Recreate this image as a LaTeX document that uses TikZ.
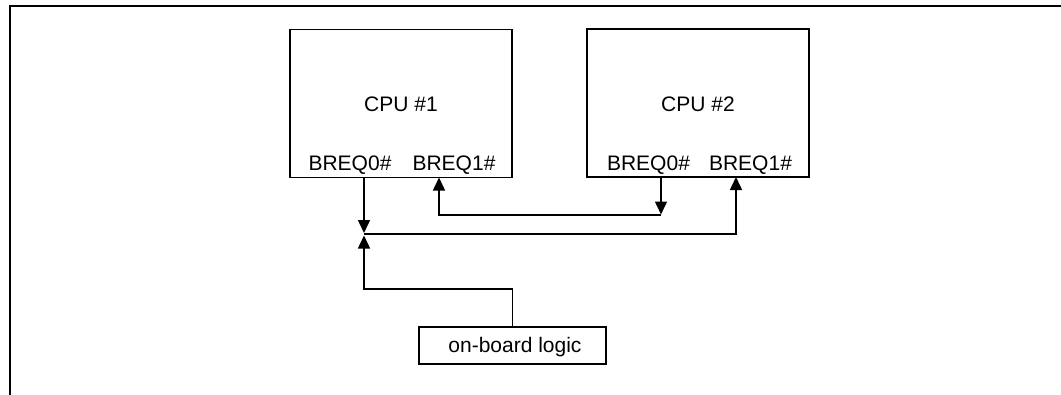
\documentclass[tikz,border=0pt]{standalone}
\usepackage{fontspec}
\setmainfont{Liberation Sans}
\usetikzlibrary{arrows.meta}
\begin{document}
\begin{tikzpicture}[x=1pt,y=-1pt,
  box/.style={draw=black,line width=1.5pt,inner sep=0pt,outer sep=0pt,rectangle},
  lbl/.style={inner sep=0pt,anchor=base,font=\fontsize{21}{25}\selectfont},
  arr/.style={line width=1.5pt,-{Triangle[length=13pt,width=12pt]}},
  frame/.style={line width=2.6pt,line cap=rect}]
\useasboundingbox (0,0) rectangle (1061,394);
% outer frame (top and left edges only)
\draw[frame] (10,394) -- (10,6) -- (1061,6);
% CPU boxes
\node[box,minimum width=222pt,minimum height=148pt] (cpu1) at (401,103.5) {};
\node[box,minimum width=222pt,minimum height=148pt] (cpu2) at (698,103) {};
\node[lbl,anchor=center] (t1) at (401,104) {CPU \#1};
\node[lbl,anchor=center] (t2) at (698,104) {CPU \#2};
\node[lbl] (b10) at (350,170) {BREQ0\#};
\node[lbl] (b11) at (454,170) {BREQ1\#};
\node[lbl] (b20) at (648.5,170) {BREQ0\#};
\node[lbl] (b21) at (750.5,170) {BREQ1\#};
% on-board logic
\node[box,minimum width=187pt,minimum height=37pt] (logic) at (512.5,345.5) {};
\node[lbl] (tl) at (515,352) {on-board logic};
% pins
\path (cpu1.south west) ++(74,0) coordinate (c1b0);
\path (cpu1.south west) ++(149,0) coordinate (c1b1);
\path (cpu2.south west) ++(74,0) coordinate (c2b0);
\path (cpu2.south west) ++(149,0) coordinate (c2b1);
\coordinate (jd) at (364,233);
\coordinate (ju) at (364,235.5);
\coordinate (jh) at (364,234);
\coordinate (kd) at (661,214.5);
\coordinate (kh) at (661,215);
\coordinate (lg) at (364,289);
% connectors
\draw[arr] (c1b0) -- (c1b0 |- jd);
\draw[arr] (jh) -| (c2b1);
\draw[arr] (c2b0) -- (c2b0 |- kd);
\draw[arr] (kh) -| (c1b1);
\draw[arr] (logic.north) |- (lg) -- (ju);
\end{tikzpicture}
\end{document}
